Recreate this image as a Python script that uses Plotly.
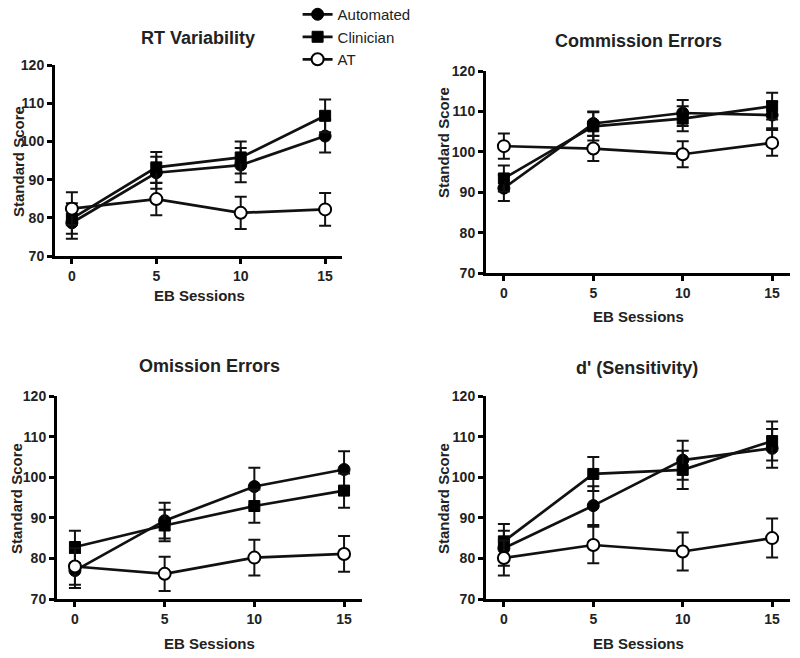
import plotly.graph_objects as go

sessions = [0, 5, 10, 15]
series_names = ["Automated", "Clinician", "AT"]
panel_titles = ["RT Variability", "Commission Errors", "Omission Errors", "d' (Sensitivity)"]
y_ticks = [70, 80, 90, 100, 110, 120]
x_ticks = [0, 5, 10, 15]

# RT Variability
rt_auto = [78.7, 91.8, 93.8, 101.4]
rt_auto_err = [4.2, 4.2, 4.5, 4.3]
rt_clin = [79.8, 93.2, 95.8, 106.7]
rt_clin_err = [4.0, 4.0, 4.2, 4.3]
rt_at = [82.4, 84.9, 81.3, 82.2]
rt_at_err = [4.3, 4.2, 4.2, 4.3]

# Commission Errors
com_auto = [91.0, 107.0, 109.6, 109.1]
com_auto_err = [3.2, 3.0, 3.2, 3.3]
com_clin = [93.4, 106.3, 108.2, 111.3]
com_clin_err = [3.2, 3.5, 3.1, 3.3]
com_at = [101.4, 100.8, 99.4, 102.2]
com_at_err = [3.1, 3.1, 3.2, 3.2]

# Omission Errors
om_auto = [77.0, 89.3, 97.7, 101.9]
om_auto_err = [4.3, 4.4, 4.6, 4.5]
om_clin = [82.8, 88.1, 92.9, 96.7]
om_clin_err = [4.0, 3.9, 4.1, 4.2]
om_at = [78.0, 76.2, 80.2, 81.1]
om_at_err = [4.5, 4.2, 4.4, 4.4]

# d' (Sensitivity)
d_auto = [82.5, 93.0, 104.2, 107.1]
d_auto_err = [4.3, 4.8, 4.8, 4.8]
d_clin = [84.2, 100.8, 101.8, 108.9]
d_clin_err = [4.3, 4.2, 4.7, 4.8]
d_at = [80.1, 83.3, 81.7, 85.0]
d_at_err = [4.3, 4.5, 4.7, 4.8]

panels = [
    [(rt_auto, rt_auto_err), (rt_clin, rt_clin_err), (rt_at, rt_at_err)],
    [(com_auto, com_auto_err), (com_clin, com_clin_err), (com_at, com_at_err)],
    [(om_auto, om_auto_err), (om_clin, om_clin_err), (om_at, om_at_err)],
    [(d_auto, d_auto_err), (d_clin, d_clin_err), (d_at, d_at_err)],
]

W, H = 800, 658
FONT = "Liberation Sans, Arial, Helvetica, sans-serif"

# plot-area pixel boxes: (left, right, top, bottom)
boxes = [
    (55, 342, 65, 256),
    (486, 790, 71, 273),
    (57, 362, 396, 599),
    (486, 790, 396, 599),
]
title_pos = [(198, 38), (638, 41), (209, 366), (637, 368)]
xtitle_pos = [(199, 295), (638, 316), (209, 643), (638, 643)]
ytitle_pos = [(18, 162), (443, 143), (16, 499), (443, 499)]

styles = [
    dict(symbol="circle", size=12, color="black", line=dict(color="black", width=1)),
    dict(symbol="square", size=11, color="black", line=dict(color="black", width=1)),
    dict(symbol="circle", size=12, color="white", line=dict(color="black", width=2)),
]

fig = go.Figure()
layout = dict(
    width=W, height=H,
    margin=dict(l=0, r=0, t=0, b=0, autoexpand=False),
    paper_bgcolor="white", plot_bgcolor="white",
    font=dict(family=FONT, color="black"),
    showlegend=True,
    legend=dict(x=0.372, y=1.003, xanchor="left", yanchor="top",
                font=dict(family=FONT, size=15, color="#222"),
                bgcolor="rgba(0,0,0,0)", tracegroupgap=0),
)
annotations = []

for i, panel in enumerate(panels):
    n = "" if i == 0 else str(i + 1)
    l, r, t, b = boxes[i]
    axis_common = dict(showline=True, linewidth=3, linecolor="black", mirror=False,
                       ticks="outside", ticklen=5, tickwidth=2.5, tickcolor="black",
                       showgrid=False, zeroline=False,
                       tickfont=dict(family=FONT, size=14, color="#222", weight="bold"))
    layout["xaxis" + n] = dict(domain=[l / W, r / W], range=[-1, 16], tickvals=x_ticks,
                               anchor="y" + n, **axis_common)
    layout["yaxis" + n] = dict(domain=[1 - b / H, 1 - t / H], range=[70, 120], tickvals=y_ticks,
                               anchor="x" + n, **axis_common)
    for j, (vals, errs) in enumerate(panel):
        fig.add_trace(go.Scatter(
            x=sessions, y=vals, name=series_names[j],
            mode="lines+markers",
            line=dict(color="#111", width=2.7),
            marker=styles[j],
            error_y=dict(type="data", array=errs, visible=True, color="#111",
                         thickness=2, width=6),
            xaxis="x" + n, yaxis="y" + n,
            showlegend=(i == 0), legendgroup=series_names[j],
            cliponaxis=False,
        ))
    tx, ty = title_pos[i]
    annotations.append(dict(text=panel_titles[i], x=tx / W, y=1 - ty / H, xref="paper", yref="paper",
                            showarrow=False, xanchor="center", yanchor="middle",
                            font=dict(family=FONT, size=18, color="#222", weight="bold")))
    ax, ay = xtitle_pos[i]
    annotations.append(dict(text="EB Sessions", x=ax / W, y=1 - ay / H, xref="paper", yref="paper",
                            showarrow=False, xanchor="center", yanchor="middle",
                            font=dict(family=FONT, size=15, color="#222", weight="bold")))
    yx, yy = ytitle_pos[i]
    annotations.append(dict(text="Standard Score", x=yx / W, y=1 - yy / H, xref="paper", yref="paper",
                            showarrow=False, xanchor="center", yanchor="middle", textangle=-90,
                            font=dict(family=FONT, size=15, color="#222", weight="bold")))

layout["annotations"] = annotations
fig.update_layout(**layout)
fig.write_html("out.html", config={"displayModeBar": False},
               post_script="document.body.style.margin='0px';document.body.style.overflow='hidden';")
